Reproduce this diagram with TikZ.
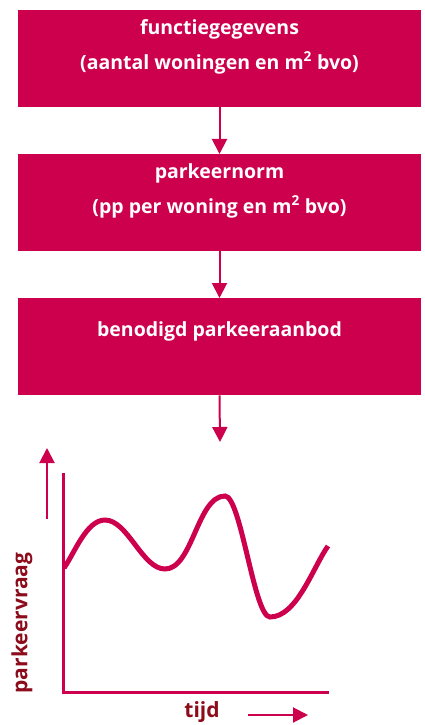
\documentclass[tikz,border=0pt]{standalone}
\usepackage{fontspec}
\setmainfont{Open Sans}
\usetikzlibrary{arrows.meta}
\definecolor{brand}{RGB}{204,0,76}
\definecolor{darkbrand}{RGB}{140,12,28}
\tikzset{
  box/.style={rectangle, fill=brand, draw=none, minimum width=403bp, minimum height=97bp, anchor=north, inner sep=0pt},
  boxtext/.style={text=white, font=\fontsize{19.5bp}{22bp}\selectfont\bfseries, inner sep=0pt},
  flow/.style={draw=brand, line width=2bp, -{Triangle[width=15bp,length=15bp]}},
  axis/.style={draw=brand, line width=3bp},
  curve/.style={draw=brand, line width=5bp},
  axislabel/.style={text=darkbrand, font=\fontsize{21bp}{24bp}\selectfont\bfseries, inner sep=0pt}
}
\begin{document}
\begin{tikzpicture}[x=1bp, y=1bp]
\useasboundingbox (0,0) rectangle (424,-725);

% process boxes
\node[box] (b1) at (219.5,-10) {};
\node[box] (b2) at (219.5,-154) {};
\node[box] (b3) at (219.5,-298) {};

\node[boxtext] (t1a) at (219.5,-29) {functiegegevens};
\node[boxtext] (t1b) at (219.5,-63) {(aantal woningen en m\textsuperscript{2} bvo)};
\node[boxtext] (t2a) at (219.5,-173) {parkeernorm};
\node[boxtext] (t2b) at (219.5,-207) {(pp per woning en m\textsuperscript{2} bvo)};
\node[boxtext] (t3a) at (219.5,-331) {benodigd parkeeraanbod};

% flow arrows
\coordinate (out3) at (220,-442);
\draw[flow] (b1.south) -- (b2.north);
\draw[flow] (b2.south) -- (b3.north);
\draw[flow] (b3.south) -- (out3);

% chart axes
\coordinate (ytop) at (63,-473);
\coordinate (orig) at (63,-692);
\coordinate (xend) at (329,-692);
\draw[axis] (ytop) -- (orig) -- (xend);

% demand curve
\coordinate (c0) at (64,-568);
\coordinate (c1) at (105,-520);
\coordinate (c2) at (165,-569);
\coordinate (c3) at (225,-496);
\coordinate (c4) at (270,-617);
\coordinate (c5) at (328,-546);
\draw[curve, looseness=0.75] (c0) to[out=55,in=180] (c1) to[out=0,in=180] (c2)
  to[out=0,in=180] (c3)
  .. controls +(16,0) and +(-16,0) .. (c4)
  to[out=0,in=235] (c5);

% axis direction arrows
\coordinate (upA) at (47,-519);
\coordinate (upB) at (47,-448);
\draw[flow] (upA) -- (upB);
\coordinate (rtA) at (248,-715);
\coordinate (rtB) at (308,-715);
\draw[flow] (rtA) -- (rtB);

% axis labels
\node[axislabel, rotate=90] (ylab) at (22,-623) {parkeervraag};
\node[axislabel] (xlab) at (202,-712) {tijd};
\end{tikzpicture}
\end{document}
